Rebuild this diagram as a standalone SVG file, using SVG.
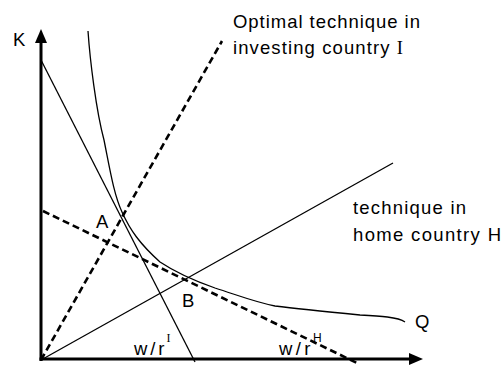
<svg xmlns="http://www.w3.org/2000/svg" width="502" height="372" viewBox="0 0 502 372">
<style>
  text { font-family: "Liberation Sans", Arial, sans-serif; font-size: 18.5px; fill: #000; }
  .sup { font-size: 12px; }
  .serifI { font-family: "Liberation Serif", "Times New Roman", serif; }
  .thin { stroke: #000; stroke-width: 1.3; fill: none; }
  .dash { stroke: #000; stroke-width: 2.6; fill: none; stroke-dasharray: 7 4; }
  .axis { stroke: #000; stroke-width: 3; fill: none; marker-end: url(#arrow); }
</style>
<defs>
  <marker id="arrow" markerUnits="userSpaceOnUse" markerWidth="14" markerHeight="12" refX="1" refY="6" orient="auto" viewBox="0 0 14 12">
    <path d="M0,0 L14,6 L0,12 z" fill="#000"/>
  </marker>
</defs>
<rect width="502" height="372" fill="#fff"/>
<g id="connectors">
  <line id="axis-k" class="axis" x1="41" y1="361" x2="41" y2="42"/>
  <line id="axis-l" class="axis" x1="39.5" y1="359" x2="410" y2="359"/>
  <line id="budget-I" class="thin" x1="41" y1="60" x2="195" y2="362"/>
  <line id="ray-H" class="thin" x1="41" y1="360" x2="393" y2="163"/>
  <line id="ray-I" class="dash" x1="41" y1="360" x2="222" y2="41"/>
  <line id="budget-H" class="dash" x1="43" y1="211" x2="357" y2="363"/>
  <path id="isoquant" class="thin" stroke-linejoin="round" d="M88,31 C90,60 96,110 104,140 C110,170 114,195 122,212 C130,230 140,244 160,262 C175,272 195,281 215,288 C240,296 255,302 275,306 C300,309 340,313 360,315 C380,316 398,317 405,322"/>
</g>
<g id="label-K"><text x="13" y="46">K</text></g>
<g id="label-optimal">
  <text x="233" y="28" textLength="187" lengthAdjust="spacing">Optimal technique in</text>
  <text x="233" y="54" textLength="170" lengthAdjust="spacing">investing country <tspan class="serifI">I</tspan></text>
</g>
<g id="label-home">
  <text x="353" y="214" textLength="113" lengthAdjust="spacing">technique in</text>
  <text x="353" y="241" textLength="148" lengthAdjust="spacing">home country H</text>
</g>
<g id="label-A"><text x="96" y="228">A</text></g>
<g id="label-B"><text x="182" y="306.5">B</text></g>
<g id="label-Q"><text x="415" y="328">Q</text></g>
<g id="label-wrI">
  <text x="134" y="354.5" textLength="30.5" lengthAdjust="spacing">w/r</text>
  <text class="sup serifI" x="166.5" y="341.7">I</text>
</g>
<g id="label-wrH">
  <text x="279" y="354.5" textLength="31.5" lengthAdjust="spacing">w/r</text>
  <text class="sup" x="313" y="341.7">H</text>
</g>
</svg>
